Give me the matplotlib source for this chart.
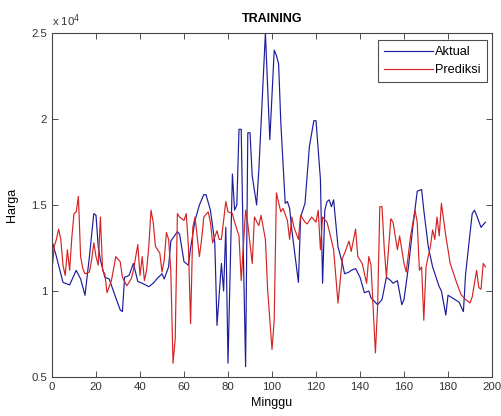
import numpy as np
import matplotlib.pyplot as plt
from matplotlib.ticker import FuncFormatter

plt.rcParams['font.family'] = ['Liberation Sans', 'DejaVu Sans']

# weekly prices (Rp), actual vs network prediction
aktual_minggu = [0, 2, 5, 8, 11, 13, 15, 17, 19, 20, 21, 22, 24, 26, 29, 31, 32, 33, 35, 37,
                 39, 41, 44, 46, 48, 50, 51, 53, 54, 57, 58, 60, 62, 63, 65, 67, 69, 70, 72, 74,
                 75, 77, 78, 79, 80, 82, 83, 84, 85, 86, 87, 88, 89, 90, 91, 93, 94, 97, 99, 101,
                 102, 103, 104, 106, 107, 108, 109, 112, 113, 115, 117, 119, 120, 122, 123, 124, 125, 126, 127, 128,
                 130, 132, 133, 135, 136, 138, 140, 142, 144, 145, 148, 150, 152, 154, 155, 157, 159, 160, 162, 164,
                 166, 168, 169, 171, 173, 176, 177, 179, 180, 182, 185, 187, 188, 191, 192, 193, 195, 197]
aktual_harga = [12900, 12000, 10500, 10350, 11200, 10700, 9750, 12000, 14500, 14400, 12600, 11800, 10800, 10700, 9600, 8900, 8800, 10800, 10900, 11600,
                10550, 10450, 10250, 10450, 10750, 11000, 10700, 11400, 12900, 13450, 13300, 11700, 11500, 12500, 14100, 15000, 15600, 15600, 14700, 12800,
                8000, 11600, 10000, 13700, 5800, 16800, 14700, 15000, 19400, 19400, 12000, 5600, 19200, 19200, 16700, 15000, 17000, 25000, 18800, 24000,
                23700, 23200, 19800, 15100, 15200, 14800, 13550, 10500, 14300, 15100, 18400, 19900, 19900, 16500, 10450, 14700, 15200, 15300, 14900, 15300,
                12570, 11600, 11000, 11100, 11200, 11300, 10800, 9900, 10000, 9600, 9200, 9500, 10800, 10600, 10450, 10600, 9200, 9500, 11400, 13700,
                15800, 15900, 14700, 12600, 11400, 10250, 10000, 8600, 9750, 9600, 9350, 8800, 11000, 14500, 14700, 14400, 13700, 14000]

prediksi_minggu = [0, 1, 2, 3, 4, 5, 6, 7, 8, 9, 10, 11, 12, 13, 14, 15, 17, 18, 19, 20,
                   21, 22, 23, 24, 25, 27, 29, 31, 32, 34, 36, 37, 39, 40, 41, 42, 43, 44, 45, 46,
                   47, 49, 50, 51, 52, 53, 54, 55, 56, 57, 58, 60, 61, 62, 63, 64, 65, 67, 68, 69,
                   71, 72, 73, 75, 76, 77, 79, 80, 82, 83, 85, 86, 88, 89, 91, 92, 94, 95, 97, 98,
                   100, 101, 102, 104, 105, 107, 108, 109, 110, 112, 113, 115, 116, 118, 120, 121, 122, 123, 125, 126,
                   128, 130, 132, 133, 135, 136, 138, 139, 141, 143, 144, 145, 147, 148, 149, 150, 151, 152, 154, 155,
                   157, 158, 160, 161, 163, 165, 166, 167, 168, 169, 170, 172, 173, 174, 175, 176, 177, 179, 181, 184,
                   186, 188, 190, 191, 193, 194, 195, 196, 197]
prediksi_harga = [11200, 12600, 13000, 13600, 13000, 11500, 10900, 12400, 11200, 13100, 14500, 14600, 15500, 12000, 11300, 11000, 11100, 11800, 12800, 12000,
                  11500, 14300, 11200, 11000, 9900, 10600, 12000, 11700, 10800, 10300, 10700, 11200, 12700, 10900, 12000, 10600, 11200, 12600, 14700, 14000,
                  12600, 12200, 11100, 11800, 13400, 13000, 11200, 5800, 7200, 14500, 14300, 14100, 14500, 12600, 8100, 13700, 14300, 12000, 13000, 14300,
                  14600, 14000, 12800, 13500, 13000, 13000, 15200, 14600, 14500, 14000, 13200, 10600, 14700, 13900, 11600, 14300, 13800, 14400, 13000, 10100,
                  6600, 8300, 15700, 14600, 14800, 14100, 13000, 14300, 13700, 13000, 14400, 14000, 13900, 14300, 14000, 14700, 12400, 14300, 14000, 13500,
                  12400, 9300, 11900, 12200, 12900, 12300, 13600, 12000, 11600, 10450, 12000, 11500, 6400, 9100, 14900, 14900, 12500, 10800, 14200, 14000,
                  12400, 13200, 11600, 11100, 13200, 14700, 14000, 11200, 11400, 8300, 11400, 12600, 13550, 13000, 14300, 13200, 15100, 13200, 11600, 10450,
                  9770, 9500, 9300, 9650, 11200, 10200, 10100, 11600, 11400]

fig = plt.figure(figsize=(5.02, 4.16), dpi=100)
ax = fig.add_axes([0.1036, 0.0938, 0.8765, 0.8269])

ax.plot(aktual_minggu, aktual_harga, color='#1c1c9c', lw=0.85, label='Aktual')
ax.plot(prediksi_minggu, prediksi_harga, color='#d42424', lw=0.85, label='Prediksi')

ax.set_xlim(0, 200)
ax.set_ylim(5000, 25000)
ax.set_xticks(np.arange(0, 201, 20))
ax.set_yticks([5000, 10000, 15000, 20000, 25000])
ax.yaxis.set_major_formatter(FuncFormatter(lambda v, p: f'{v / 1e4:g}'))
ax.tick_params(direction='in', top=True, right=True, length=4, width=0.6,
               labelsize=8.2, colors='#333333', pad=3.5)
for s in ax.spines.values():
    s.set_linewidth(0.8)
    s.set_color('#444444')

ax.text(0.0, 1.012, r'x 10$^{4}$', transform=ax.transAxes, fontsize=8.2,
        color='#333333', ha='left', va='bottom')
ax.set_title('TRAINING', fontsize=9, fontweight='bold', pad=8)
ax.set_xlabel('Minggu', fontsize=9, labelpad=4)
ax.set_ylabel('Harga', fontsize=9, labelpad=10)

leg = ax.legend(loc='upper right', bbox_to_anchor=(0.989, 0.980), borderaxespad=0,
                fancybox=False, fontsize=9.2, handlelength=3.8, handletextpad=0.2,
                borderpad=0.5, labelspacing=0.45)
leg.get_frame().set_edgecolor('#222222')
leg.get_frame().set_linewidth(0.8)

fig.savefig('out.png', dpi=100)
